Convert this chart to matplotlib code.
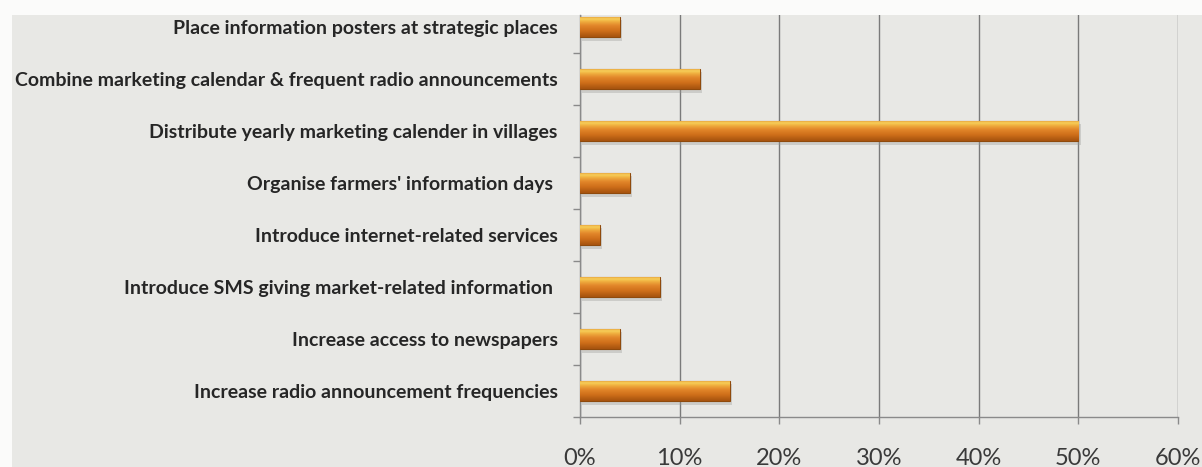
import numpy as np
import matplotlib
matplotlib.use('Agg')
import matplotlib.pyplot as plt
from matplotlib.colors import LinearSegmentedColormap
from matplotlib.patches import Rectangle

plt.rcParams['font.family'] = ['Lato', 'DejaVu Sans']

# bottom to top, as drawn
categories = [
    "Increase radio announcement frequencies",
    "Increase access to newspapers",
    "Introduce SMS giving market-related information ",
    "Introduce internet-related services",
    "Organise farmers' information days ",
    "Distribute yearly marketing calender in villages",
    "Combine marketing calendar & frequent radio announcements",
    "Place information posters at strategic places",
]
shares = [15, 4, 8, 2, 5, 50, 12, 4]  # percent
x_ticks = [0, 10, 20, 30, 40, 50, 60]
x_tick_labels = ["0%", "10%", "20%", "30%", "40%", "50%", "60%"]

W, H = 1202, 467
fig = plt.figure(figsize=(W / 100, H / 100), dpi=100)
fig.patch.set_facecolor('#fbfbfa')

# grey chart panel
fig.patches.append(Rectangle((12 / W, 0), 1, (H - 15) / H, transform=fig.transFigure,
                             facecolor='#e8e8e5', edgecolor='none', zorder=-10))

ax = fig.add_axes([580 / W, (H - 417) / H, (1178 - 580) / W, (417 - 15) / H])
ax.set_facecolor('none')

bar_h = 0.40
y = np.arange(len(categories))

# soft shadow under each bar
ax.barh(y - 0.06, shares, height=bar_h, left=0.25, color='#9a9a95', alpha=0.35,
        edgecolor='none', zorder=2)
bars = ax.barh(y, shares, height=bar_h, color='#e08a2a', edgecolor='#8f4a0c',
               linewidth=0.8, zorder=3)

# glossy orange gradient, top highlight to darker bottom
bar_cmap = LinearSegmentedColormap.from_list('bar', [
    (0.0, '#a4520e'), (0.3, '#cf6f1a'), (0.55, '#e2862a'),
    (0.75, '#f0b040'), (0.86, '#f7cf5a'), (0.95, '#eeb045'), (1.0, '#b8641a')])
grad = np.linspace(0, 1, 256).reshape(-1, 1)
for b, v, yy in zip(bars, shares, y):
    im = ax.imshow(grad, extent=[0, v, yy - bar_h / 2, yy + bar_h / 2], origin='lower',
                   aspect='auto', cmap=bar_cmap, zorder=3.5, interpolation='bicubic')
    im.set_clip_path(b)

ax.set_xlim(0, 60)
ax.set_ylim(-0.5, -0.5 + 402 / 52)

ax.set_xticks(x_ticks)
ax.set_xticklabels(x_tick_labels, fontsize=17, color='#3a3a3a')
ax.tick_params(axis='x', length=5, width=1, color='#8a8a8a', pad=17)

ax.set_yticks(y)
ax.set_yticklabels(categories, fontsize=14, fontweight='bold', color='#262626')
ax.tick_params(axis='y', length=0, pad=16)
ax.set_yticks(np.arange(len(categories)) - 0.5, minor=True)
ax.tick_params(axis='y', which='minor', length=5, width=1, color='#8a8a8a')

ax.grid(axis='x', color='#7a7a7a', linewidth=1)
ax.set_axisbelow(True)
for side in ['top', 'right']:
    ax.spines[side].set_visible(False)
for side in ['left', 'bottom']:
    ax.spines[side].set_color('#8a8a8a')
    ax.spines[side].set_linewidth(1)

fig.savefig('out.png', dpi=100)
